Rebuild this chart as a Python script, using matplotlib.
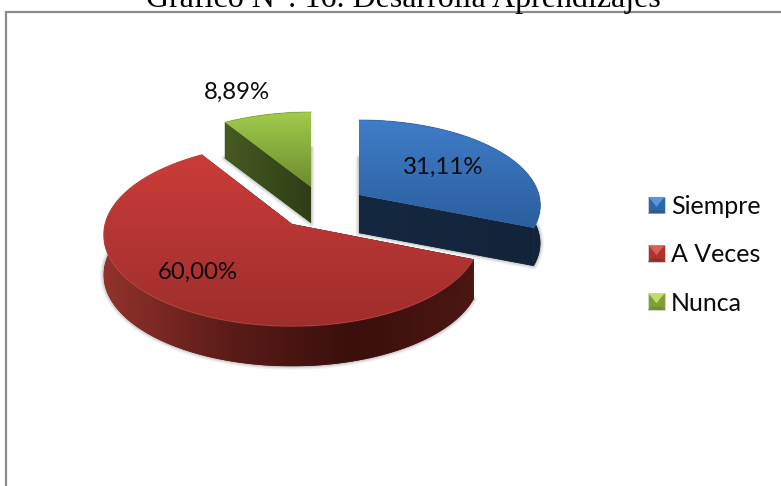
import numpy as np
import matplotlib
matplotlib.use("Agg")
import matplotlib.pyplot as plt
from matplotlib.colors import LinearSegmentedColormap
from matplotlib.legend_handler import HandlerBase
from matplotlib.patches import Polygon, Rectangle

# Data
title = "Gráfico N°: 16. Desarrolla Aprendizajes"
categories = ["Siempre", "A Veces", "Nunca"]
percent = [31.11, 60.00, 8.89]

# Styles
top_colors = [("#3F7DC8", "#2B5E9E"), ("#CB3C39", "#9E2E2C"), ("#A2CB4C", "#6C8C2E")]
side_colors = [("#14283F", "#12243A"),
               ("#92322D", "#5C1C18", "#3A0F0C", "#4C1713"),
               ("#465A20", "#2F3D16")]
edge_colors = ["#3A70B4", "#C8483F", "#8FB040"]
legend_colors = [("#5A96DC", "#2F66A8", "#2A5C98"),
                 ("#DC5C56", "#AF3431", "#9A2C2A"),
                 ("#BCDF68", "#7F9F38", "#728F30")]

# Layout (pixels of the figure): apex, radii and thickness of each exploded slice
apex = [(359, 195), (292, 224), (311, 187)]
radii = [(180, 84), (187, 90), (179, 84)]
depth = [38, 40, 36]
persp = 0.12
label_pos = [(443, 167), (198, 272), (237, 92)]

W, H = 781, 486
fig = plt.figure(figsize=(W / 100, H / 100), dpi=100, facecolor="white")
ax = fig.add_axes([0, 0, 1, 1])
ax.axis("off")


def project(t, i):
    u, v = np.sin(t), np.cos(t)
    s = 1 / (1 + persp * v)
    return apex[i][0] + radii[i][0] * u * s, apex[i][1] - radii[i][1] * v * s


def fill(points, colors, vertical, z):
    pts = np.asarray(points)
    cmap = LinearSegmentedColormap.from_list("g", colors)
    ramp = np.linspace(0, 1, 256)
    arr = ramp[:, None] if vertical else ramp[None, :]
    x0, y0 = pts.min(axis=0)
    x1, y1 = pts.max(axis=0)
    im = ax.imshow(arr, cmap=cmap, extent=(x0, x1, y1, y0), aspect="auto",
                   zorder=z, origin="upper", vmin=0, vmax=1)
    im.set_clip_path(Polygon(pts, closed=True, transform=ax.transData))


# Frame behind the chart
ax.plot([6, 6, W + 5], [H + 5, 12.5, 12.5], color="#8C8C8C", lw=1.6, zorder=1,
        solid_joinstyle="miter")

edges = np.cumsum([0] + percent) / sum(percent) * 2 * np.pi
for i in range(len(percent)):
    t = np.linspace(edges[i], edges[i + 1], 160)
    arc = np.column_stack(project(t, i))
    a = np.array(apex[i], dtype=float)
    d = np.array([0, depth[i]])
    top = np.vstack([a, arc])
    rim = np.vstack([arc, (arc + d)[::-1]])
    z = 3 + i * 0.1
    # soft shadow around the base of the slice
    for lw, alpha in ((5.0, 0.10), (3.0, 0.14), (1.5, 0.18)):
        ax.add_patch(Polygon(top + d, closed=True, fc="#707070", ec="#707070",
                             lw=lw, alpha=alpha, zorder=2, joinstyle="round"))
    # side faces: rim and the two cut faces, on one solid underlay to hide seams
    ax.add_patch(Polygon(rim, closed=True, fc=side_colors[i][-1], ec="none", zorder=z - 0.01))
    fill(rim, side_colors[i], False, z)
    for end in (arc[0], arc[-1]):
        face = np.array([a, end, end + d, a + d])
        ax.add_patch(Polygon(face, closed=True, fc=side_colors[i][-1], ec="none", zorder=z))
        fill(face, side_colors[i], False, z + 0.01)
    # top surface
    fill(top, top_colors[i], True, z + 0.02)
    ax.plot(arc[:, 0], arc[:, 1], color=edge_colors[i], lw=0.8, alpha=0.6, zorder=z + 0.03)
    ax.text(*label_pos[i], f"{percent[i]:.2f}%".replace(".", ","), ha="center",
            va="center", fontsize=17.3, family="Lato", color="#0A0A0A", zorder=6)


class BevelHandler(HandlerBase):
    def __init__(self, colors):
        super().__init__()
        self.colors = colors

    def create_artists(self, legend, orig, xd, yd, width, height, fontsize, trans):
        light, mid, dark = self.colors
        x0, y0 = -xd, -yd
        x1, y1 = x0 + width, y0 + height
        b = width * 0.2
        return [Rectangle((x0, y0), width, height, fc=mid, ec="#D8D8D8", lw=0.6, transform=trans),
                Polygon([(x0, y1), (x1, y1), (x1 - b, y1 - b), ((x0 + x1) / 2, y0 + height * .4),
                         (x0 + b, y1 - b)], fc=light, ec="none", transform=trans),
                Polygon([(x0, y0), (x1, y0), (x1 - b, y0 + b), (x0 + b, y0 + b)],
                        fc=dark, ec="none", transform=trans)]


handles = [Rectangle((0, 0), 1, 1, label=c) for c in categories]
fs_px = 25.0
leg = ax.legend(handles=handles, labels=categories, loc="upper left",
                bbox_to_anchor=(648, 195), bbox_transform=ax.transData,
                frameon=False, borderpad=0, borderaxespad=0,
                prop={"family": "Lato", "size": fs_px * 0.72},
                handlelength=17 / fs_px, handleheight=16 / fs_px,
                handletextpad=6 / fs_px, labelspacing=1.01,
                handler_map={h: BevelHandler(c) for h, c in zip(handles, legend_colors)})
for txt in leg.get_texts():
    txt.set_color("#0A0A0A")
leg.set_zorder(6)

ax.text(403, 6.5, title, ha="center", va="baseline", family="Liberation Serif",
        fontsize=23, color="black", zorder=6, clip_on=False)

ax.set_xlim(0, W)
ax.set_ylim(H, 0)
fig.savefig("out.png", dpi=100, facecolor="white")
